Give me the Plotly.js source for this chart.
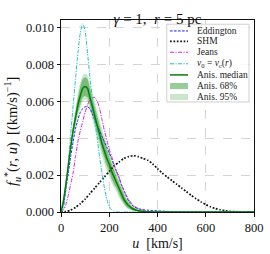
<!DOCTYPE html>
<html>
<head>
<meta charset="utf-8">
<script src="https://cdn.plot.ly/plotly-3.0.1.min.js"></script>
<style>html,body{margin:0;padding:0;background:#fff;}#chart{width:270px;height:254px;}</style>
</head>
<body>
<div id="chart"></div>
<script>
// speed grid (km/s) for the isotropic / anisotropic curves
const u = [0,10,20,30,40,50,60,70,80,90,100,110,120,130,140,150,160,170,180,190,200,210,220,230,240,250,260,270,280,290,300,320,340,360,380,400,450,500,600,800];
// speed grid for SHM
const uShm = [0,20,40,60,80,100,120,140,160,180,200,220,240,260,280,300,320,340,360,380,400,420,440,460,480,500,520,540,560,580,600,620,640,660,680,700,720,740,760,780,800];

const eddington = [0,0.0004,0.0012,0.0021,0.0030,0.0038,0.0045,0.0050,0.0054,0.0056,0.0057,0.0057,0.0056,0.0053,0.0050,0.0047,0.0044,0.0041,0.0038,0.0035,0.0032,0.0029,0.0025,0.0022,0.0019,0.0015,0.0012,0.0009,0.0006,0.00045,0.0003,0.00018,0.00012,0.0001,0.00008,0.00006,0.00003,0.00001,0,0];
const shm = [0,0.00002,0.0001,0.00025,0.00045,0.0007,0.0010,0.0013,0.0016,0.0019,0.0022,0.0025,0.0027,0.0029,0.0030,0.00305,0.0030,0.0029,0.0028,0.0026,0.00235,0.0021,0.0019,0.0017,0.0015,0.0013,0.0011,0.0009,0.00072,0.00055,0.0004,0.00028,0.00019,0.00012,0.00007,0.00004,0.00002,0.00001,0,0,0];
const jeans = [0,0.0001,0.0004,0.0009,0.0015,0.0021,0.0030,0.0038,0.0044,0.0049,0.0054,0.0058,0.0061,0.0062,0.0062,0.0060,0.0056,0.0050,0.0044,0.0039,0.0034,0.0030,0.0026,0.0022,0.0019,0.0015,0.0012,0.0009,0.0007,0.0005,0.00035,0.0002,0.0001,0.00005,0.00003,0.00002,0.00001,0,0,0];
const v0vc = [0,0.0002,0.0012,0.0026,0.0042,0.0057,0.0072,0.0086,0.0097,0.0102,0.0098,0.0086,0.0073,0.0061,0.0050,0.0040,0.0030,0.0021,0.0013,0.0007,0.0003,0.00012,0.00004,0.00001,0,0,0,0,0,0,0,0,0,0,0,0,0,0,0,0];
const anisMedian = [0,0.0006,0.0015,0.0025,0.0035,0.0044,0.0051,0.0058,0.0063,0.0067,0.0068,0.0067,0.0062,0.0057,0.0052,0.0047,0.0042,0.0037,0.0033,0.0029,0.0026,0.0022,0.0019,0.0016,0.0013,0.0010,0.0007,0.0005,0.00035,0.00024,0.00016,0.00007,0.00003,0.00001,0,0,0,0,0,0];
const anis68hi = [0,0.0007,0.0016,0.0027,0.0037,0.0046,0.0054,0.0062,0.0068,0.0072,0.0073,0.0072,0.0067,0.0062,0.0057,0.0052,0.0047,0.0042,0.0038,0.0034,0.0030,0.0026,0.0023,0.0019,0.0016,0.0013,0.0010,0.0007,0.0005,0.00035,0.00025,0.00012,0.00005,0.00002,0,0,0,0,0,0];
const anis68lo = [0,0.0005,0.0014,0.0023,0.0033,0.0042,0.0048,0.0054,0.0058,0.0062,0.0063,0.0062,0.0058,0.0053,0.0048,0.0043,0.0038,0.0033,0.0029,0.0025,0.0022,0.0018,0.0015,0.0013,0.0010,0.0007,0.0005,0.0003,0.0002,0.00013,0.00008,0.00003,0.00001,0,0,0,0,0,0,0];
const anis95hi = [0,0.0008,0.0017,0.0028,0.0038,0.0048,0.0056,0.0064,0.0070,0.0074,0.0075,0.0074,0.0070,0.0065,0.0060,0.0055,0.0050,0.0045,0.0041,0.0037,0.0033,0.0029,0.0026,0.0022,0.0019,0.0015,0.0012,0.0009,0.0007,0.0005,0.00035,0.00017,0.00008,0.00003,0.00001,0,0,0,0,0];
const anis95lo = [0,0.0004,0.0013,0.0022,0.0032,0.0040,0.0046,0.0052,0.0056,0.0060,0.0061,0.0060,0.0055,0.0050,0.0045,0.0040,0.0035,0.0030,0.0026,0.0022,0.0019,0.0016,0.0013,0.0011,0.0008,0.0006,0.0004,0.00025,0.00015,0.0001,0.00005,0.00002,0,0,0,0,0,0,0,0];

const xTicks = [0,200,400,600,800];
const yTicks = [0,0.002,0.004,0.006,0.008,0.010];

const legendLabels = ['Eddington','SHM','Jeans','<i>v</i><sub>0</sub> = <i>v</i><sub>c</sub>(<i>r</i>)','Anis. median','Anis. 68%','Anis. 95%'];
const yTitle = '<i>f</i><sub><i>u</i></sub><sup>*</sup>(<i>r</i>, <i>u</i>)  [(km/s)<sup>−1</sup>]';

const C = {edd:'#1a1aff', shm:'#111111', jeans:'#dd22dd', cyan:'#22c4c4', green:'#008000',
  f68:'rgba(0,128,0,0.40)', f95:'rgba(0,128,0,0.20)'};
const D = {edd:'2.6px,1.4px', shm:'1.7px,1.7px', jeans:'4px,1.4px,1.2px,1.4px', cyan:'4px,1.4px,1.2px,1.4px'};

const traces = [
  {x:u, y:anis95lo, mode:'lines', line:{width:0, shape:'spline', smoothing:0.6}, hoverinfo:'skip', showlegend:false},
  {x:u, y:anis95hi, mode:'lines', fill:'tonexty', fillcolor:C.f95, line:{width:0, shape:'spline', smoothing:0.6}, showlegend:false},
  {x:u, y:anis68lo, mode:'lines', line:{width:0, shape:'spline', smoothing:0.6}, hoverinfo:'skip', showlegend:false},
  {x:u, y:anis68hi, mode:'lines', fill:'tonexty', fillcolor:C.f68, line:{width:0, shape:'spline', smoothing:0.6}, showlegend:false},
  {x:u, y:eddington, mode:'lines', line:{color:C.edd, width:1, dash:D.edd, shape:'spline', smoothing:0.6}, showlegend:false},
  {x:uShm, y:shm, mode:'lines', line:{color:C.shm, width:1.7, dash:D.shm, shape:'spline', smoothing:0.6}, showlegend:false},
  {x:u, y:jeans, mode:'lines', line:{color:C.jeans, width:1, dash:D.jeans, shape:'spline', smoothing:0.6}, showlegend:false},
  {x:u, y:v0vc, mode:'lines', line:{color:C.cyan, width:1, dash:D.cyan, shape:'spline', smoothing:0.6}, showlegend:false},
  {x:u, y:anisMedian, mode:'lines', line:{color:C.green, width:1.5, shape:'spline', smoothing:0.6}, showlegend:false}
];

// hand-drawn legend (paper coordinates)
const lx0 = 0.548, lx1 = 0.974, ly0 = 0.573, ly1 = 0.978;
const rowY = [0.943,0.889,0.832,0.772,0.714,0.656,0.599];
const sx0 = 0.565, sx1 = 0.658, tx = 0.695;
const shapes = [
  {type:'rect', xref:'paper', yref:'paper', x0:lx0, x1:lx1, y0:ly0, y1:ly1, fillcolor:'rgba(255,255,255,0.85)', line:{color:'#d0d0d0', width:1}, layer:'above'}
];
const sampleStyles = [
  {kind:'line', color:C.edd, width:1, dash:D.edd},
  {kind:'line', color:C.shm, width:1.7, dash:D.shm},
  {kind:'line', color:C.jeans, width:1, dash:D.jeans},
  {kind:'line', color:C.cyan, width:1, dash:D.cyan},
  {kind:'line', color:C.green, width:1.5, dash:'solid'},
  {kind:'rect', color:C.f68},
  {kind:'rect', color:C.f95}
];
const tickFont = {family:'Liberation Serif, serif', size:12.5, color:'#111'};
const titleFont = {family:'Liberation Serif, serif', size:14, color:'#111'};

const annotations = [];
sampleStyles.forEach((s,i) => {
  if (s.kind === 'line') {
    shapes.push({type:'line', xref:'paper', yref:'paper', x0:sx0, x1:sx1, y0:rowY[i], y1:rowY[i], line:{color:s.color, width:s.width, dash:s.dash}, layer:'above'});
  } else {
    shapes.push({type:'rect', xref:'paper', yref:'paper', x0:sx0, x1:sx1, y0:rowY[i]-0.016, y1:rowY[i]+0.016, fillcolor:s.color, line:{width:0}, layer:'above'});
  }
  annotations.push({xref:'paper', yref:'paper', x:tx, y:rowY[i], xanchor:'left', yanchor:'middle', text:legendLabels[i], showarrow:false, font:{family:'Liberation Serif, serif', size:9.5, color:'#222'}});
});
// y-axis title
annotations.push({xref:'paper', yref:'paper', x:-0.25, y:0.42, xanchor:'center', yanchor:'middle', textangle:-90, text:yTitle, showarrow:false,
  font:{family:'Liberation Serif, serif', size:14.5, color:'#111'}});

const layout = {
  width:270, height:254,
  margin:{l:61, r:16, t:20, b:42},
  paper_bgcolor:'#fff', plot_bgcolor:'#fff',
  font:tickFont,
  title:{text:'<i>γ</i> = 1,  <i>r</i> = 5 pc', font:{family:'Liberation Serif, serif', size:15, color:'#111'}, x:0.583, xanchor:'center', y:0.925, yanchor:'middle'},
  xaxis:{range:[0,800], tickvals:xTicks, ticktext:xTicks.map(String), showgrid:true, gridcolor:'#d4d4d4', griddash:'dash', gridwidth:0.8,
    zeroline:false, showline:true, linecolor:'#111', linewidth:1, mirror:true, ticks:'outside', ticklen:3.5, tickcolor:'#111',
    tickfont:tickFont, title:{text:'<i>u</i>  [km/s]', font:titleFont, standoff:4}},
  yaxis:{range:[0,0.0104], tickvals:yTicks, ticktext:yTicks.map(v=>v.toFixed(3)), showgrid:true, gridcolor:'#d4d4d4', griddash:'dash', gridwidth:0.8,
    zeroline:false, showline:true, linecolor:'#111', linewidth:1, mirror:true, ticks:'outside', ticklen:3.5, tickcolor:'#111',
    tickfont:tickFont},
  shapes:shapes,
  annotations:annotations,
  showlegend:false
};

Plotly.newPlot('chart', traces, layout, {displayModeBar:false});
</script>
</body>
</html>
